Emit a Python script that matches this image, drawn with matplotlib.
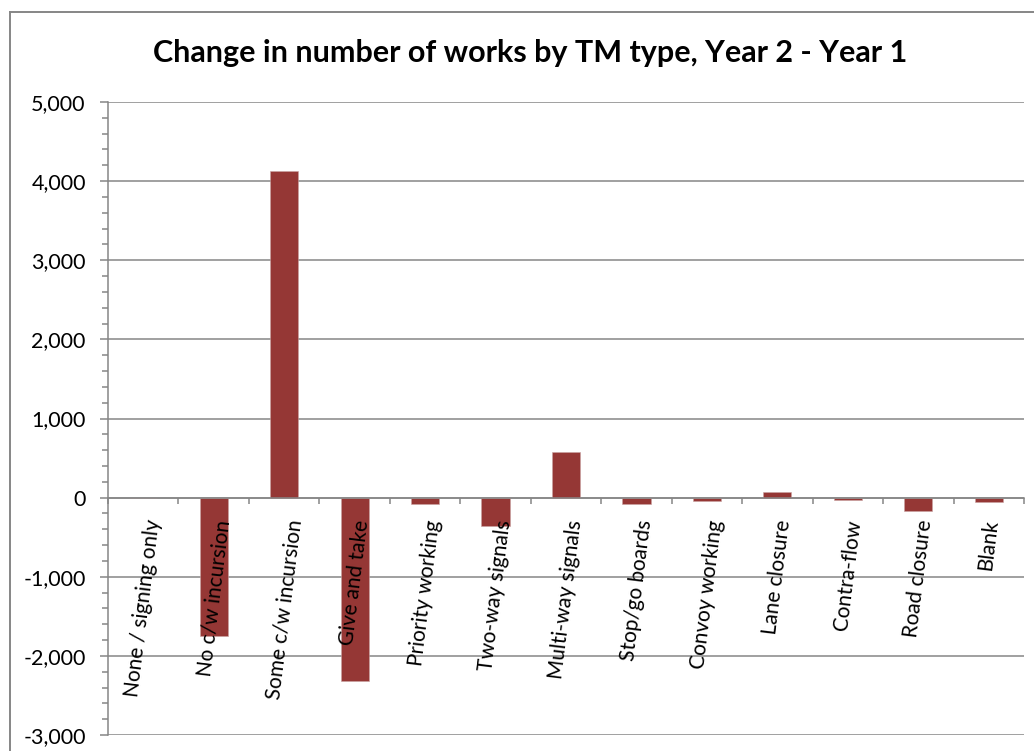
import numpy as np
import matplotlib.pyplot as plt
from matplotlib.lines import Line2D
from matplotlib.ticker import FuncFormatter, MultipleLocator

plt.rcParams['font.family'] = ['Lato', 'DejaVu Sans']

tm_types = ['None / signing only', 'No c/w incursion', 'Some c/w incursion',
            'Give and take', 'Priority working', 'Two-way signals',
            'Multi-way signals', 'Stop/go boards', 'Convoy working',
            'Lane closure', 'Contra-flow', 'Road closure', 'Blank']
change = [0, -1745, 4130, -2315, -80, -355, 580, -80, -38, 75, -35, -175, -60]

grey = '#868686'
bar_colour = '#953735'

fig = plt.figure(figsize=(10.34, 7.51), dpi=100)
ax = fig.add_axes([108 / 1034, 1 - 735 / 751, (1024 - 108) / 1034, (735 - 102) / 751])

x = np.arange(len(tm_types))
ax.bar(x, change, width=0.4, color=bar_colour, edgecolor='#c9a3a2', linewidth=0.4, zorder=2)

ax.set_xlim(-0.5, len(tm_types) - 0.5)
ax.set_ylim(-3000, 5000)
ax.yaxis.set_major_locator(MultipleLocator(1000))
ax.yaxis.set_minor_locator(MultipleLocator(200))
ax.yaxis.set_major_formatter(FuncFormatter(lambda v, p: f'{v:,.0f}'))
ax.grid(axis='y', which='major', color=grey, linewidth=1.1)

# gridlines under the bars, category labels over them
ax.yaxis.set_zorder(0.5)
ax.xaxis.set_zorder(5)

# category axis sits on the zero line, ticks between categories
ax.spines['bottom'].set_position(('data', 0))
ax.spines['bottom'].set_color(grey)
ax.spines['bottom'].set_linewidth(1.1)
ax.spines['left'].set_color(grey)
ax.spines['left'].set_linewidth(1.1)
ax.spines['top'].set_visible(False)
ax.spines['right'].set_visible(False)
ax.set_xticks(x)
ax.set_xticklabels(tm_types, rotation=83, ha='center', va='top', fontsize=15)
ax.set_xticks(np.arange(len(tm_types) + 1) - 0.5, minor=True)
ax.tick_params(axis='x', which='major', length=0, pad=15)
ax.tick_params(axis='x', which='minor', length=4, color=grey, width=1.1, direction='out')
ax.tick_params(axis='y', which='major', length=6, color=grey, width=1.1, labelsize=15.5, pad=10)
ax.tick_params(axis='y', which='minor', length=4, color=grey, width=1.1)

fig.text(530 / 1034, 1 - 53 / 751, 'Change in number of works by TM type, Year 2 - Year 1',
         ha='center', va='center', fontsize=22, fontweight='bold')

# chart frame (only top and left edges fall inside the image)
fig.add_artist(Line2D([10 / 1034, 10 / 1034], [0, 1 - 12 / 751], transform=fig.transFigure,
                      color=grey, linewidth=1.4))
fig.add_artist(Line2D([10 / 1034, 1], [1 - 12 / 751, 1 - 12 / 751], transform=fig.transFigure,
                      color=grey, linewidth=1.4))

fig.savefig('out.png', dpi=100)
